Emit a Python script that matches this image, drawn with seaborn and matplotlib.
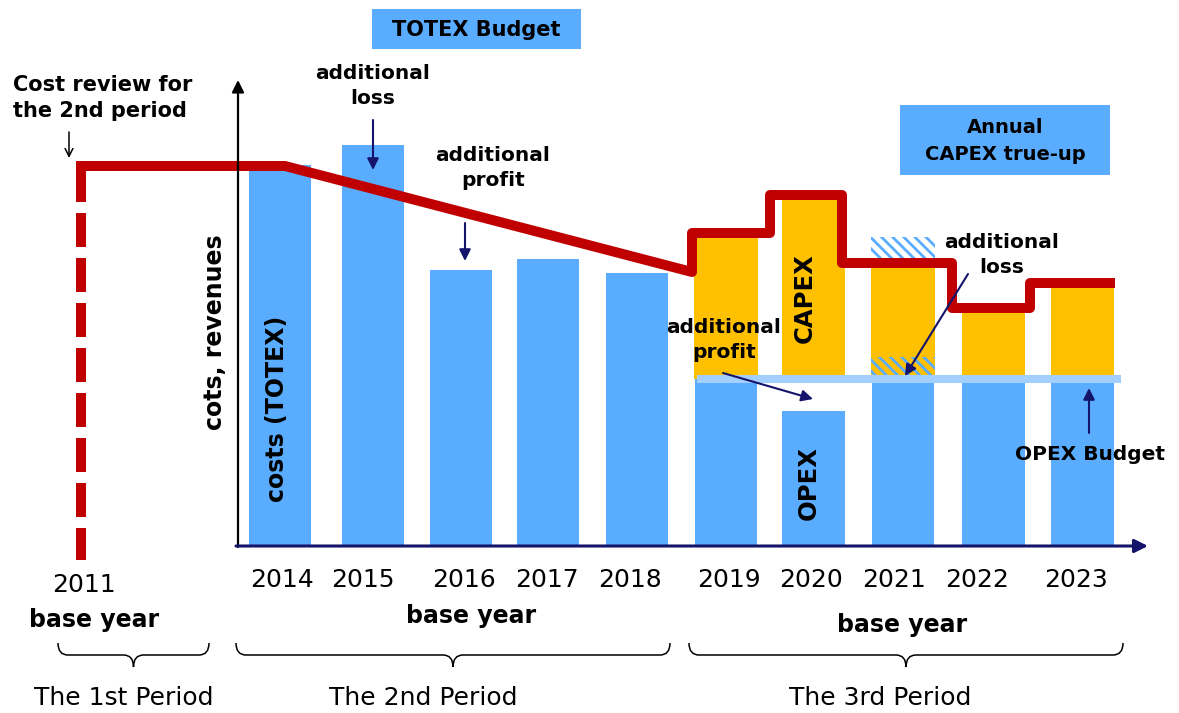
import numpy as np
import pandas as pd
import matplotlib
matplotlib.use("Agg")
import matplotlib.pyplot as plt
from matplotlib.patches import Rectangle, PathPatch
from matplotlib.path import Path
import seaborn as sns

# ---------------------------------------------------------------
# DATA  (levels in arbitrary units above the time axis)
# ---------------------------------------------------------------
YEARS_2ND = ["2014", "2015", "2016", "2017", "2018"]
YEARS_3RD = ["2019", "2020", "2021", "2022", "2023"]
TOTEX_2ND = [380, 400, 275, 286, 272]        # actual total costs
OPEX_3RD = [166, 134, 166, 166, 166]         # actual opex
OPEX_BUDGET = 166
CAPEX_TOP_3RD = [307, 345, 277, 232, 257]    # opex budget + capex
OPEX_OVERRUN_2021 = 22                       # hatched part inside capex bar
UNCOVERED_2021 = [287, 308]                  # hatched part above revenue
REVENUE_2011 = 379                           # cost review level
REVENUE_2ND = [379, 379, 273]                # flat, then declining
REVENUE_3RD = [312, 350, 282, 237, 262]      # annual capex true-up
PERIODS = ["The 1st Period", "The 2nd Period", "The 3rd Period"]

# ---------------------------------------------------------------
# LAYOUT  (x in pixels, y measured up from the time axis)
# ---------------------------------------------------------------
W, H = 1179, 713
BASE = 545


def Y(py):
    return BASE - py


BAR_X_2ND = [280, 373, 461, 548, 637]
BAR_X_3RD = [726, 813.5, 903, 993.5, 1082.5]
YEAR_LABEL_X = [282, 363, 464, 547, 630, 729, 811, 894, 977, 1076]
REV_2ND_X = [76, 285, 692]
STEP_EDGES = [692, 770, 842, 952, 1030, 1115]
BRACES = [(58, 209), (236, 670), (689, 1123)]
PERIOD_X = [124, 423, 880]

BLUE = "#5AACFF"
ORANGE = "#FFC000"
RED = "#C00000"
LIGHT = "#A3CFFF"
NAVY = "#14146B"

sns.set_style("white")
plt.rcParams["font.family"] = ["DejaVu Sans"]
plt.rcParams["text.color"] = "black"
plt.rcParams["hatch.linewidth"] = 2.0

fig = plt.figure(figsize=(W / 100, H / 100), dpi=100)
ax = fig.add_axes([0, 0, 1, 1])

# bars -----------------------------------------------------------
blue = pd.DataFrame({"x": BAR_X_2ND + BAR_X_3RD,
                     "value": TOTEX_2ND + OPEX_3RD})
sns.barplot(data=blue, x="x", y="value", native_scale=True, width=0.72,
            color=BLUE, saturation=1, errorbar=None, linewidth=0,
            edgecolor=BLUE, ax=ax, zorder=2)

capex = pd.DataFrame({"x": BAR_X_3RD,
                      "value": [t - OPEX_BUDGET for t in CAPEX_TOP_3RD]})
sns.barplot(data=capex, x="x", y="value", native_scale=True, width=0.73,
            color=ORANGE, saturation=1, errorbar=None, linewidth=0,
            edgecolor=ORANGE, bottom=OPEX_BUDGET, ax=ax, zorder=2)

# 2021 shifted opex overrun
ax.bar(BAR_X_3RD[2], OPEX_OVERRUN_2021, width=64, bottom=OPEX_BUDGET,
       facecolor=ORANGE, edgecolor=BLUE, hatch="\\\\\\", linewidth=0, zorder=3)
ax.bar(BAR_X_3RD[2], UNCOVERED_2021[1] - UNCOVERED_2021[0], width=64,
       bottom=UNCOVERED_2021[0], facecolor="white", edgecolor=BLUE,
       hatch="\\\\\\", linewidth=0, zorder=3)

# opex budget line
ax.plot([697, 1121], [OPEX_BUDGET, OPEX_BUDGET], color=LIGHT, lw=5.8,
        solid_capstyle="butt", zorder=3)

# revenue path (TOTEX budget) -------------------------------------
rev_x = list(REV_2ND_X)
rev_y = list(REVENUE_2ND)
for i, level in enumerate(REVENUE_3RD):
    rev_x += [STEP_EDGES[i], STEP_EDGES[i + 1]]
    rev_y += [level, level]
rev = pd.DataFrame({"x": rev_x, "y": rev_y})
sns.lineplot(data=rev, x="x", y="y", sort=False, estimator=None, color=RED,
             lw=7.2, solid_joinstyle="round", solid_capstyle="butt",
             ax=ax, zorder=4)

# cost review 2011 (dashed)
ax.plot([81, 81], [REVENUE_2011 - 2, Y(560)], color=RED, lw=7.2,
        linestyle=(0, (3.4, 1.1)), dash_capstyle="butt", zorder=4)

# axes arrows -------------------------------------------------------
ax.annotate("", xy=(238, Y(80)), xytext=(238, Y(547)),
            arrowprops=dict(arrowstyle="-|>", color="black", lw=1.6,
                            mutation_scale=18, shrinkA=0, shrinkB=0),
            zorder=5)
ax.annotate("", xy=(1148, Y(546)), xytext=(236, Y(546)),
            arrowprops=dict(arrowstyle="-|>", color=NAVY, lw=2.2,
                            mutation_scale=20, shrinkA=0, shrinkB=0),
            zorder=5)

# boxes --------------------------------------------------------------
ax.add_patch(Rectangle((372, Y(49)), 209, 40, facecolor=BLUE, lw=0, zorder=3))
ax.text(476, Y(30), "TOTEX Budget", ha="center", va="center",
        fontsize=15, fontweight="bold", zorder=5)
ax.add_patch(Rectangle((900, Y(175)), 210, 70, facecolor=BLUE, lw=0, zorder=3))
ax.text(1005, Y(141), "Annual\nCAPEX true-up", ha="center", va="center",
        fontsize=14, fontweight="bold", linespacing=1.55, zorder=5)

# annotations ---------------------------------------------------------
bold = dict(fontweight="bold", ha="center", va="center", zorder=5)
ax.text(13, Y(98), "Cost review for\nthe 2nd period", fontsize=15,
        fontweight="bold", ha="left", va="center", linespacing=1.4)
ax.annotate("", xy=(69, Y(158)), xytext=(69, Y(132)),
            arrowprops=dict(arrowstyle="->", color="black", lw=1.1,
                            mutation_scale=14, shrinkA=0, shrinkB=0))

ax.text(373, Y(86), "additional\nloss", fontsize=14.5, linespacing=1.45, **bold)
ax.text(493, Y(168), "additional\nprofit", fontsize=14.5, linespacing=1.45, **bold)
ax.text(1002, Y(255), "additional\nloss", fontsize=14.5, linespacing=1.45, **bold)
ax.text(724, Y(340), "additional\nprofit", fontsize=14.5, linespacing=1.45, **bold)
ax.text(1090, Y(455), "OPEX Budget", fontsize=14.5, **bold)

navy_arrows = [((373, 120), (373, 170)), ((465, 223), (465, 261)),
               ((968, 274), (905, 376)), ((723, 373), (813, 399)),
               ((1089, 433), (1089, 388))]
for (x0, y0), (x1, y1) in navy_arrows:
    ax.annotate("", xy=(x1, Y(y1)), xytext=(x0, Y(y0)),
                arrowprops=dict(arrowstyle="-|>", color=NAVY, lw=1.5,
                                mutation_scale=17, shrinkA=0, shrinkB=0),
                zorder=6)

ax.text(805, Y(298), "CAPEX", fontsize=17.5, rotation=90, **bold)
ax.text(809, Y(483), "OPEX", fontsize=17.5, rotation=90, **bold)
ax.text(277, Y(409), "costs (TOTEX)", fontsize=17, rotation=90, **bold)
ax.text(215, Y(332), "cots, revenues", fontsize=17, rotation=90, **bold)

# time axis labels ---------------------------------------------------------
ax.text(84, Y(585), "2011", fontsize=18, ha="center", va="center")
for x, year in zip(YEAR_LABEL_X, YEARS_2ND + YEARS_3RD):
    ax.text(x, Y(580), year, fontsize=18, ha="center", va="center")
for x, y in [(94, 620), (471, 616), (902, 625)]:
    ax.text(x, Y(y), "base year", fontsize=17, **bold)


def brace(x0, x1, y_end, y_mid, y_tip, r=10):
    xc = (x0 + x1) / 2
    verts = [(x0, y_end), (x0, y_mid), (x0 + r, y_mid), (xc - r, y_mid),
             (xc, y_mid), (xc, y_tip), (xc, y_mid), (xc + r, y_mid),
             (x1 - r, y_mid), (x1, y_mid), (x1, y_end)]
    codes = [Path.MOVETO, Path.CURVE3, Path.CURVE3, Path.LINETO,
             Path.CURVE3, Path.CURVE3, Path.CURVE3, Path.CURVE3,
             Path.LINETO, Path.CURVE3, Path.CURVE3]
    ax.add_patch(PathPatch(Path(verts, codes), facecolor="none",
                           edgecolor="black", lw=1.1))


for (x0, x1), px, label in zip(BRACES, PERIOD_X, PERIODS):
    brace(x0, x1, Y(643), Y(655), Y(667))
    ax.text(px, Y(698), label, fontsize=18, ha="center", va="center")

ax.set_xlim(0, W)
ax.set_ylim(Y(H), Y(0))
ax.axis("off")

fig.savefig("out.png", dpi=100)
